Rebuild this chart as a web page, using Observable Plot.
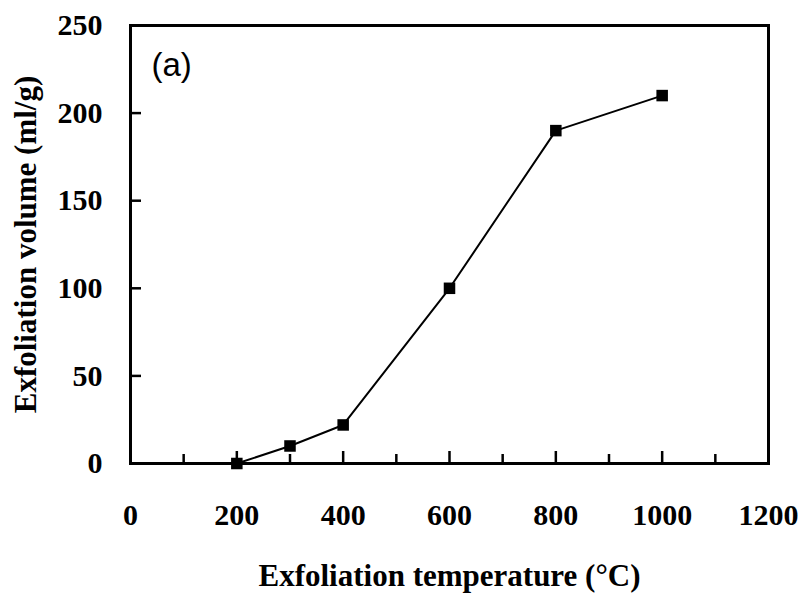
<!DOCTYPE html>
<html>
<head>
<meta charset="utf-8">
<script src="https://cdn.jsdelivr.net/npm/d3@7"></script>
<script src="https://cdn.jsdelivr.net/npm/@observablehq/plot@0.6"></script>
<style>
  html, body { margin: 0; padding: 0; background: #fff; }
  #chart svg { display: block; }
</style>
</head>
<body>
<div id="chart"></div>
<script>
// Exfoliation volume measured at each exfoliation temperature
const temperatures = [200, 300, 400, 600, 800, 1000];
const volumes = [0, 10, 22, 100, 190, 210];

// Axis ticks
const xMajorTicks = [0, 200, 400, 600, 800, 1000, 1200];
const xMinorTicks = [100, 300, 500, 700, 900, 1100];
const yTicks = [0, 50, 100, 150, 200, 250];

const xLabel = "Exfoliation temperature (°C)";
const yLabel = "Exfoliation volume (ml/g)";
const panelLabel = "(a)";

const data = temperatures.map((t, i) => ({t, v: volumes[i]}));

const W = 802, H = 593;
const mT = 25, mB = 130, mL = 130, mR = 34;
const innerH = H - mT - mB;
const innerW = W - mL - mR;

const serif = "'Liberation Serif', 'Times New Roman', serif";

const chart = Plot.plot({
  width: W,
  height: H,
  marginTop: mT,
  marginBottom: mB,
  marginLeft: mL,
  marginRight: mR,
  style: {background: "#fff", color: "#000"},
  x: {domain: [0, 1200]},
  y: {domain: [0, 250]},
  marks: [
    Plot.frame({stroke: "#000", strokeWidth: 3}),
    // inward ticks along the bottom
    Plot.tickX(xMajorTicks.filter(d => d > 0 && d < 1200), {x: d => d, insetTop: innerH - 12, stroke: "#000", strokeWidth: 2.5}),
    Plot.tickX(xMinorTicks, {x: d => d, insetTop: innerH - 9, stroke: "#000", strokeWidth: 2.5}),
    // inward ticks along the left
    Plot.tickY(yTicks.filter(d => d > 0 && d < 250), {y: d => d, insetRight: innerW - 11, stroke: "#000", strokeWidth: 2.5}),
    Plot.axisX({ticks: xMajorTicks, tickSize: 0, tickPadding: 40, fontSize: 30, fontWeight: "bold", fontFamily: serif, label: null, tickFormat: d => String(d)}),
    Plot.axisY({ticks: yTicks, tickSize: 0, tickPadding: 28, fontSize: 30, fontWeight: "bold", fontFamily: serif, label: null, tickFormat: d => String(d)}),
    Plot.line(data, {x: "t", y: "v", stroke: "#000", strokeWidth: 2}),
    Plot.dot(data, {x: "t", y: "v", symbol: "square", r: 6.5, fill: "#000", stroke: "none"}),
    Plot.text([xLabel], {frameAnchor: "bottom", dy: 122, textAnchor: "middle", fontSize: 31, fontWeight: "bold", fontFamily: serif, fill: "#000"}),
    Plot.text([yLabel], {frameAnchor: "left", dx: -104, textAnchor: "middle", lineAnchor: "middle", rotate: -90, fontSize: 31, fontWeight: "bold", fontFamily: serif, fill: "#000"}),
    Plot.text([panelLabel], {frameAnchor: "top-left", dx: 21, dy: 27, textAnchor: "start", fontSize: 33, fontFamily: "'Liberation Sans', Arial, sans-serif", fill: "#000"})
  ]
});

document.getElementById("chart").appendChild(chart);
</script>
</body>
</html>
